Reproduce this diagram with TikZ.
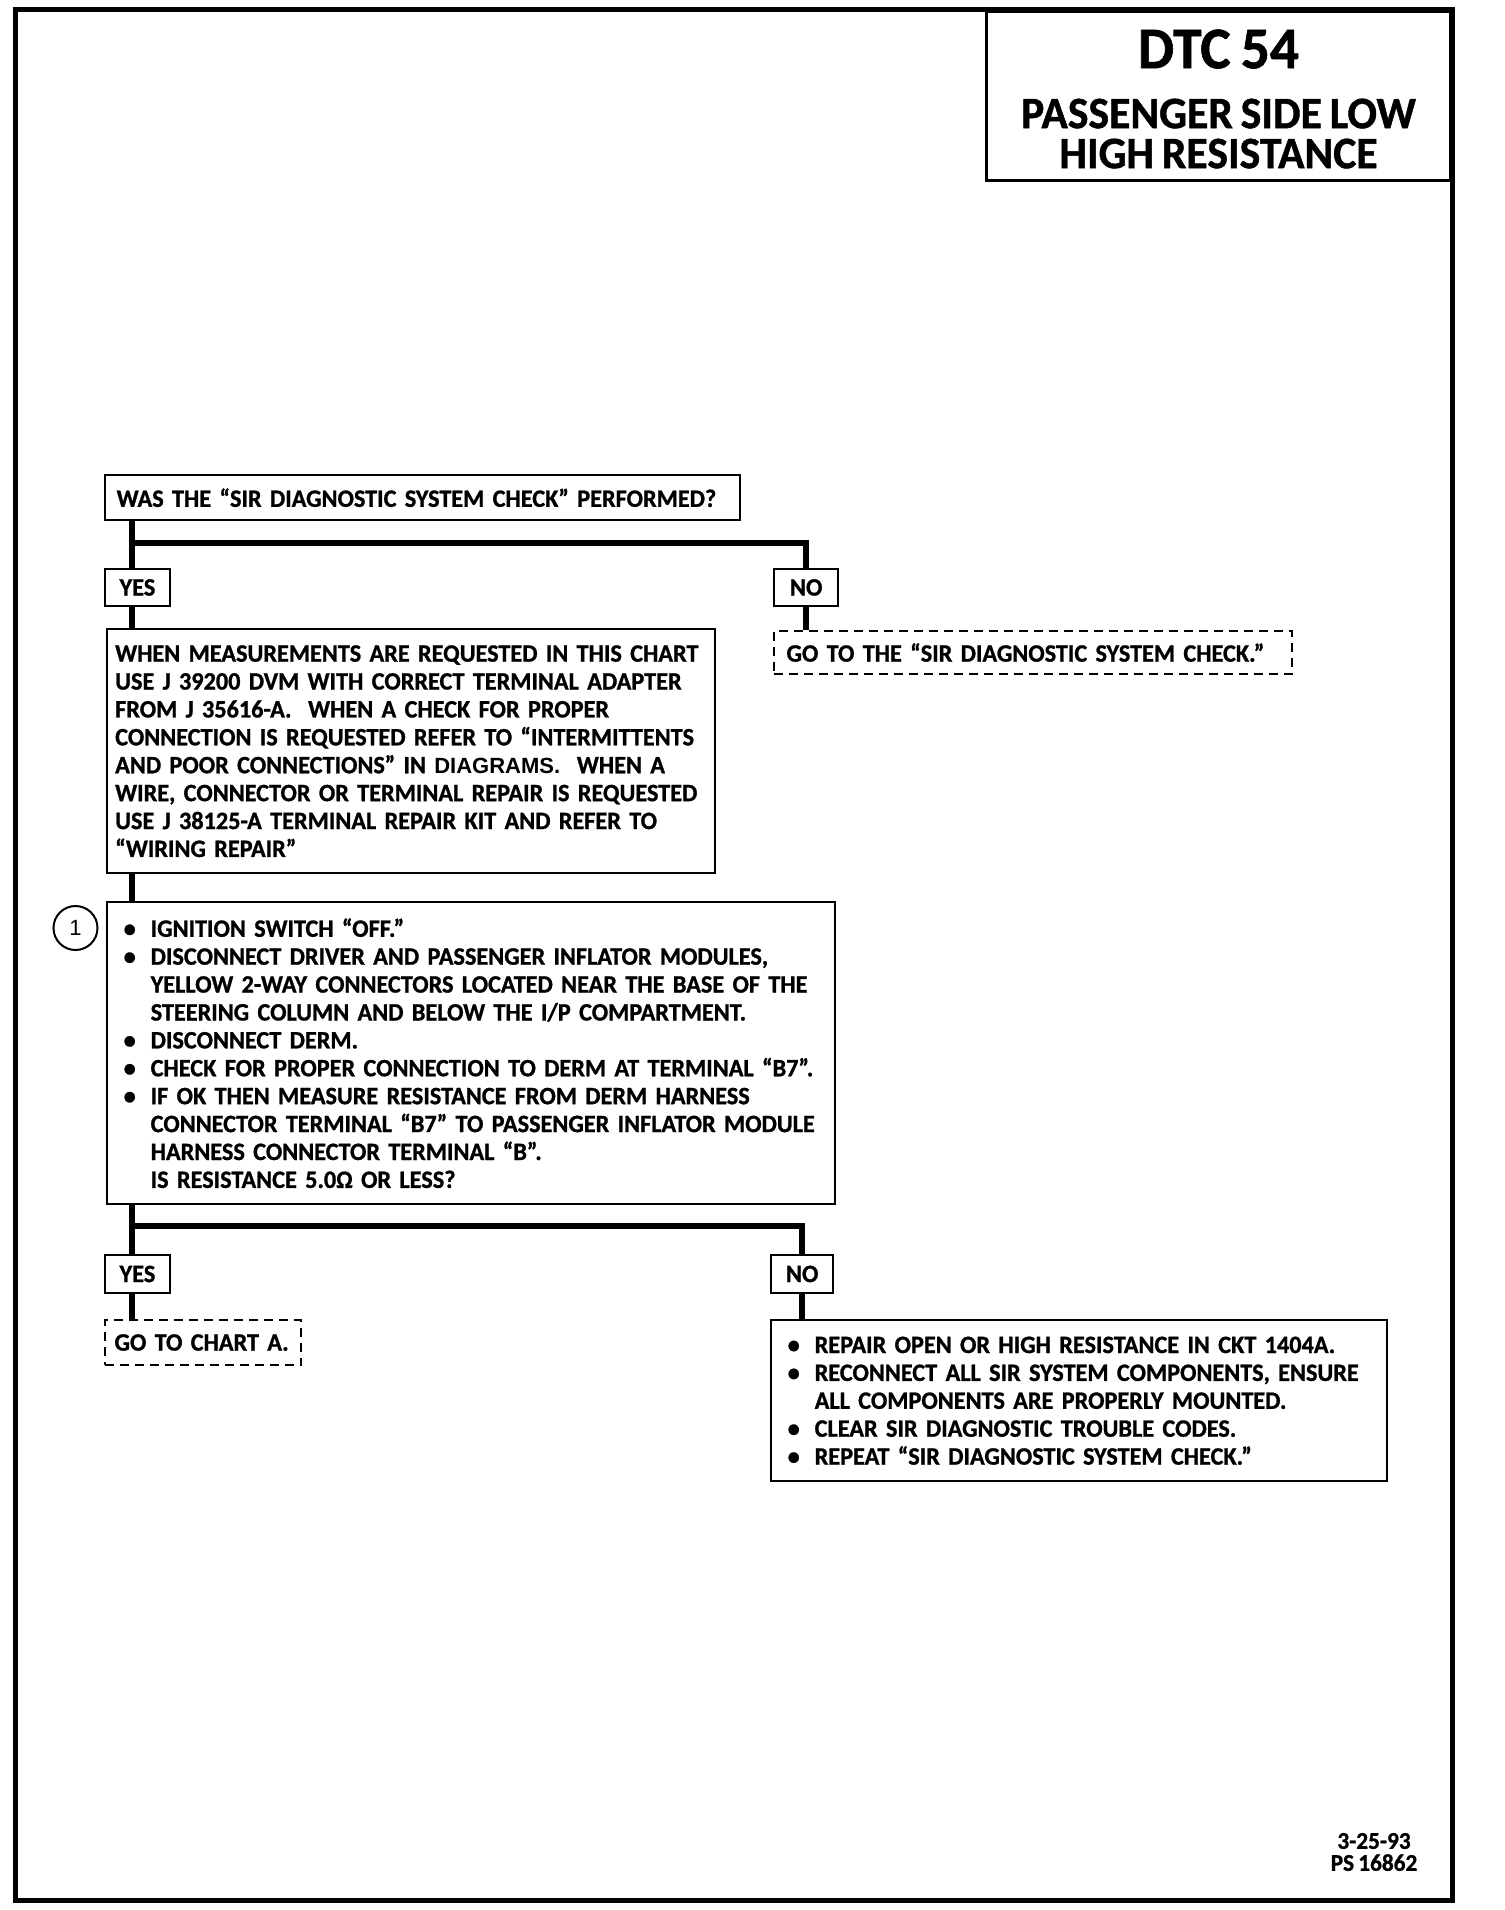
\documentclass[tikz,border=0pt]{standalone}
\usepackage{fontspec}
\setmainfont{Carlito}[WordSpace=0.8, FakeStretch=0.97, BoldFeatures={FakeBold=1}]
\newfontfamily\helvfont{Liberation Sans}
\usetikzlibrary{positioning}

\newcommand{\chartfont}{\fontsize{25}{27.9}\selectfont\bfseries
  \hyphenpenalty=10000\exhyphenpenalty=10000}
\newcommand{\bul}{\makebox[35.5pt][l]{\hspace{8.5pt}\textbullet}}
\newcommand{\ind}{\hspace*{35.5pt}}

\tikzset{
  frame/.style={line width=5pt},
  chartbox/.style={draw, line width=2.4pt, font=\chartfont, align=left,
    anchor=north west, inner ysep=0pt},
  gotobox/.style={chartbox, line width=2pt, dash pattern=on 9pt off 6pt},
  answer/.style={draw, line width=2.4pt, font=\chartfont, anchor=north west,
    minimum height=37.5pt, inner sep=0pt},
  flow/.style={line width=6pt},
}

\begin{document}
\begin{tikzpicture}[x=1pt,y=-1pt]
\useasboundingbox (0,0) rectangle (1504,1910);

% page frame and title
\draw[frame] (15,10) rectangle (1452,1900);
\node[draw, line width=3pt, anchor=north east, minimum width=464,
  minimum height=169] (title) at (1452,10) {};
\node[align=center, font=\fontsize{45}{40}\selectfont\bfseries]
  (titletext) at ([yshift=-3pt]title.center)
  {{\fontsize{59}{59}\selectfont DTC 54}\\[20pt]
   PASSENGER SIDE LOW\\HIGH RESISTANCE};

% first question
\coordinate (trunk) at (131.5,0);
\coordinate (fork1) at (131.5,543);
\node[chartbox, inner xsep=8pt, text width=619.5pt, minimum height=45pt]
  (q1) at (103.5,474)
  {\hspace*{4pt}WAS THE “SIR DIAGNOSTIC SYSTEM CHECK” PERFORMED?};
\node[answer, minimum width=65.5pt] (yes1) at (103.5,567.5) {YES};
\node[answer, minimum width=64pt] (no1) at (773,567.5) {NO};
\node[gotobox, inner xsep=12.5pt, text width=493pt, minimum height=43pt]
  (goto1) at (773,630)
  {GO TO THE “SIR DIAGNOSTIC SYSTEM CHECK.”};

\draw[flow] (q1.south -| trunk) -- (yes1.north -| trunk);
\draw[flow] (fork1) -| (no1.north);
\draw[flow] (no1.south) -- (no1.south |- goto1.north);

% tool notes
\node[chartbox, inner xsep=8pt, text width=592pt, minimum height=244pt]
  (meas) at (106,628)
  {WHEN MEASUREMENTS ARE REQUESTED IN THIS CHART\\
   USE J 39200 DVM WITH CORRECT TERMINAL ADAPTER\\
   FROM J 35616-A.\ \ WHEN A CHECK FOR PROPER\\
   CONNECTION IS REQUESTED REFER TO “INTERMITTENTS\\
   AND POOR CONNECTIONS” IN {\helvfont\fontsize{22}{27.9}\selectfont DIAGRAMS.}\ \ WHEN A\\
   WIRE, CONNECTOR OR TERMINAL REPAIR IS REQUESTED\\
   USE J 38125-A TERMINAL REPAIR KIT AND REFER TO\\
   “WIRING REPAIR”};
\draw[flow] (yes1.south -| trunk) -- (meas.north -| trunk);

% step 1
\node[chartbox, inner xsep=8pt, text width=712pt, minimum height=302pt]
  (step) at (106,901)
  {\bul IGNITION SWITCH “OFF.”\\
   \bul DISCONNECT DRIVER AND PASSENGER INFLATOR MODULES,\\
   \ind YELLOW 2-WAY CONNECTORS LOCATED NEAR THE BASE OF THE\\
   \ind STEERING COLUMN AND BELOW THE I/P COMPARTMENT.\\
   \bul DISCONNECT DERM.\\
   \bul CHECK FOR PROPER CONNECTION TO DERM AT TERMINAL “B7”.\\
   \bul IF OK THEN MEASURE RESISTANCE FROM DERM HARNESS\\
   \ind CONNECTOR TERMINAL “B7” TO PASSENGER INFLATOR MODULE\\
   \ind HARNESS CONNECTOR TERMINAL “B”.\\
   \ind IS RESISTANCE 5.0Ω OR LESS?};
\node[circle, draw, line width=2pt, minimum size=44pt, inner sep=0pt,
  font=\helvfont\fontsize{22}{22}\selectfont] (c1) at (75.5,928) {1};
\draw[flow] (meas.south -| trunk) -- (step.north -| trunk);

% answers to step 1
\coordinate (fork2) at (131.5,1226);
\node[answer, minimum width=65.5pt] (yes2) at (103.5,1254) {YES};
\node[answer, minimum width=62pt] (no2) at (770,1254) {NO};
\node[gotobox, inner xsep=10pt, text width=176.5pt, minimum height=45pt]
  (goto2) at (103.5,1319) {GO TO CHART A.};
\node[chartbox, inner xsep=8pt, text width=600pt, minimum height=161pt]
  (repair) at (770,1319)
  {\bul REPAIR OPEN OR HIGH RESISTANCE IN CKT 1404A.\\
   \bul RECONNECT ALL SIR SYSTEM COMPONENTS, ENSURE\\
   \ind ALL COMPONENTS ARE PROPERLY MOUNTED.\\
   \bul CLEAR SIR DIAGNOSTIC TROUBLE CODES.\\
   \bul REPEAT “SIR DIAGNOSTIC SYSTEM CHECK.”};

\draw[flow] (step.south -| trunk) -- (yes2.north -| trunk);
\draw[flow] (fork2) -| (no2.north);
\draw[flow] (yes2.south -| trunk) -- (goto2.north -| trunk);
\draw[flow] (no2.south) -- (no2.south |- repair.north);

% chart number
\node[font=\fontsize{24}{22}\selectfont\bfseries, align=center]
  (chartno) at (1374,1852) {3-25-93\\PS 16862};
\end{tikzpicture}
\end{document}
